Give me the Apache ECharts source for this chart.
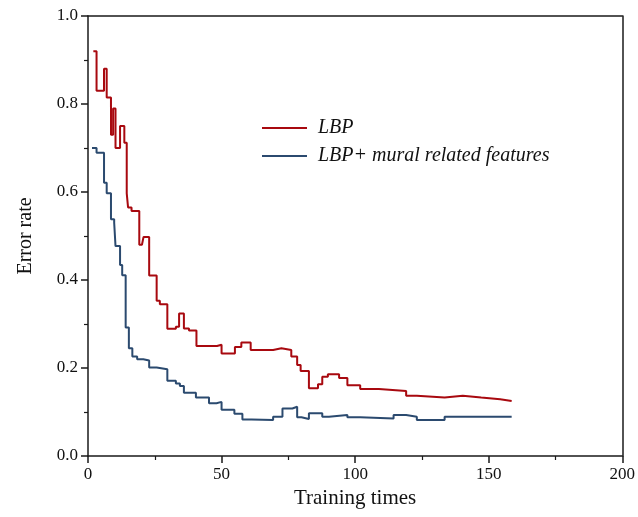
<!DOCTYPE html>
<html>
<head>
<meta charset="utf-8">
<script src="https://cdn.jsdelivr.net/npm/echarts@6/dist/echarts.min.js"></script>
<style>
  html, body { margin: 0; padding: 0; background: #fff; }
  #chart { width: 638px; height: 517px; }
</style>
</head>
<body>
<div id="chart"></div>
<script>
// Error rate vs. training times, stepwise curves
const lbpX = [2, 3.2, 6, 7, 8.6, 9.4, 10.3, 12, 13.6, 14.5, 15, 16.3, 19.2, 20.2, 20.8, 22.9, 25.7, 26.9, 29.7, 32.9, 34.1, 35.9, 37.8, 40.6, 48.3, 50, 55, 57.4, 60.9, 69.3, 72.4, 76.1, 78.3, 79.6, 82.7, 86.1, 87.7, 89.8, 94, 97.1, 101.9, 108.9, 119.1, 123.1, 133.5, 140.3, 147.2, 154.3, 158.6];
const lbpY = [0.92, 0.83, 0.88, 0.815, 0.73, 0.79, 0.70, 0.75, 0.712, 0.597, 0.565, 0.557, 0.48, 0.476, 0.498, 0.41, 0.353, 0.345, 0.289, 0.294, 0.324, 0.29, 0.285, 0.25, 0.253, 0.233, 0.248, 0.258, 0.241, 0.245, 0.241, 0.226, 0.207, 0.193, 0.154, 0.163, 0.18, 0.186, 0.177, 0.161, 0.152, 0.148, 0.137, 0.133, 0.137, 0.133, 0.129, 0.125, 0.125];

const muralX = [1.5, 3.2, 6, 7, 8.6, 9.8, 10.3, 12, 12.8, 14.1, 15.3, 16.6, 18.4, 20.7, 22.9, 25.7, 29.7, 32.9, 34.4, 35.9, 40.4, 45.3, 48.1, 50, 54.8, 57.8, 61.2, 69.3, 72.8, 76.5, 78.3, 79.9, 82.7, 87.7, 90.2, 97.1, 101.9, 114.4, 119.1, 123.1, 133.5, 158.6];
const muralY = [0.70, 0.689, 0.621, 0.597, 0.538, 0.53, 0.477, 0.434, 0.411, 0.292, 0.245, 0.226, 0.22, 0.217, 0.201, 0.197, 0.171, 0.165, 0.159, 0.144, 0.133, 0.12, 0.123, 0.105, 0.096, 0.083, 0.082, 0.089, 0.108, 0.112, 0.088, 0.084, 0.097, 0.089, 0.093, 0.088, 0.085, 0.093, 0.089, 0.082, 0.089, 0.089];

const seriesNames = ['LBP', 'LBP+ mural related features'];
const xTicks = { min: 0, max: 200, interval: 50 };
const yTicks = { min: 0, max: 1, interval: 0.2 };

const zip = (xs, ys) => xs.map((x, i) => [x, ys[i]]);

const serif = '"Liberation Serif", "DejaVu Serif", serif';
const axisColor = '#1a1a1a';

// plain lines closing the frame on the top and right sides
const frameAxis = (pos) => ({
  type: 'value',
  min: 0, max: pos === 'top' ? xTicks.max : yTicks.max,
  position: pos,
  axisLine: { show: true, onZero: false, lineStyle: { color: axisColor, width: 1.5 } },
  axisTick: { show: false },
  axisLabel: { show: false },
  splitLine: { show: false }
});

const chart = echarts.init(document.getElementById('chart'));
chart.setOption({
  animation: false,
  backgroundColor: '#fff',
  grid: { left: 88, right: 15, top: 16, bottom: 61, containLabel: false },
  legend: {
    orient: 'vertical',
    left: 262,
    top: 118,
    padding: 0,
    itemWidth: 45,
    itemHeight: 2,
    itemGap: 8,
    icon: 'rect',
    textStyle: { fontFamily: serif, fontStyle: 'italic', fontSize: 20, color: '#111', padding: [0, 0, 0, 6] },
    data: seriesNames
  },
  xAxis: [{
    type: 'value',
    min: xTicks.min, max: xTicks.max, interval: xTicks.interval,
    position: 'bottom',
    name: 'Training times',
    nameLocation: 'middle',
    nameGap: 31,
    nameTextStyle: { fontFamily: serif, fontSize: 21, color: '#111' },
    axisLine: { onZero: false, lineStyle: { color: axisColor, width: 1.5 } },
    axisTick: { inside: false, length: 7, lineStyle: { color: axisColor, width: 1.5 } },
    minorTick: { show: true, splitNumber: 2, length: 4, lineStyle: { color: axisColor, width: 1.2 } },
    axisLabel: { fontFamily: serif, fontSize: 17, color: '#111', margin: 10 },
    splitLine: { show: false }
  }, frameAxis('top')],
  yAxis: [{
    type: 'value',
    min: yTicks.min, max: yTicks.max, interval: yTicks.interval,
    position: 'left',
    name: 'Error rate',
    nameLocation: 'middle',
    nameGap: 52,
    nameTextStyle: { fontFamily: serif, fontSize: 20, color: '#111' },
    axisLine: { show: true, onZero: false, lineStyle: { color: axisColor, width: 1.5 } },
    axisTick: { inside: false, length: 7, lineStyle: { color: axisColor, width: 1.5 } },
    minorTick: { show: true, splitNumber: 2, length: 4, lineStyle: { color: axisColor, width: 1.2 } },
    axisLabel: { fontFamily: serif, fontSize: 17, color: '#111', margin: 10, formatter: v => v.toFixed(1) },
    splitLine: { show: false }
  }, frameAxis('right')],
  series: [{
    name: seriesNames[0],
    type: 'line',
    step: 'end',
    showSymbol: false,
    color: '#a8090f',
    lineStyle: { width: 2, color: '#a8090f' },
    data: zip(lbpX, lbpY)
  }, {
    name: seriesNames[1],
    type: 'line',
    step: 'end',
    showSymbol: false,
    color: '#2b4a6f',
    lineStyle: { width: 2, color: '#2b4a6f' },
    data: zip(muralX, muralY)
  }]
});
</script>
</body>
</html>
